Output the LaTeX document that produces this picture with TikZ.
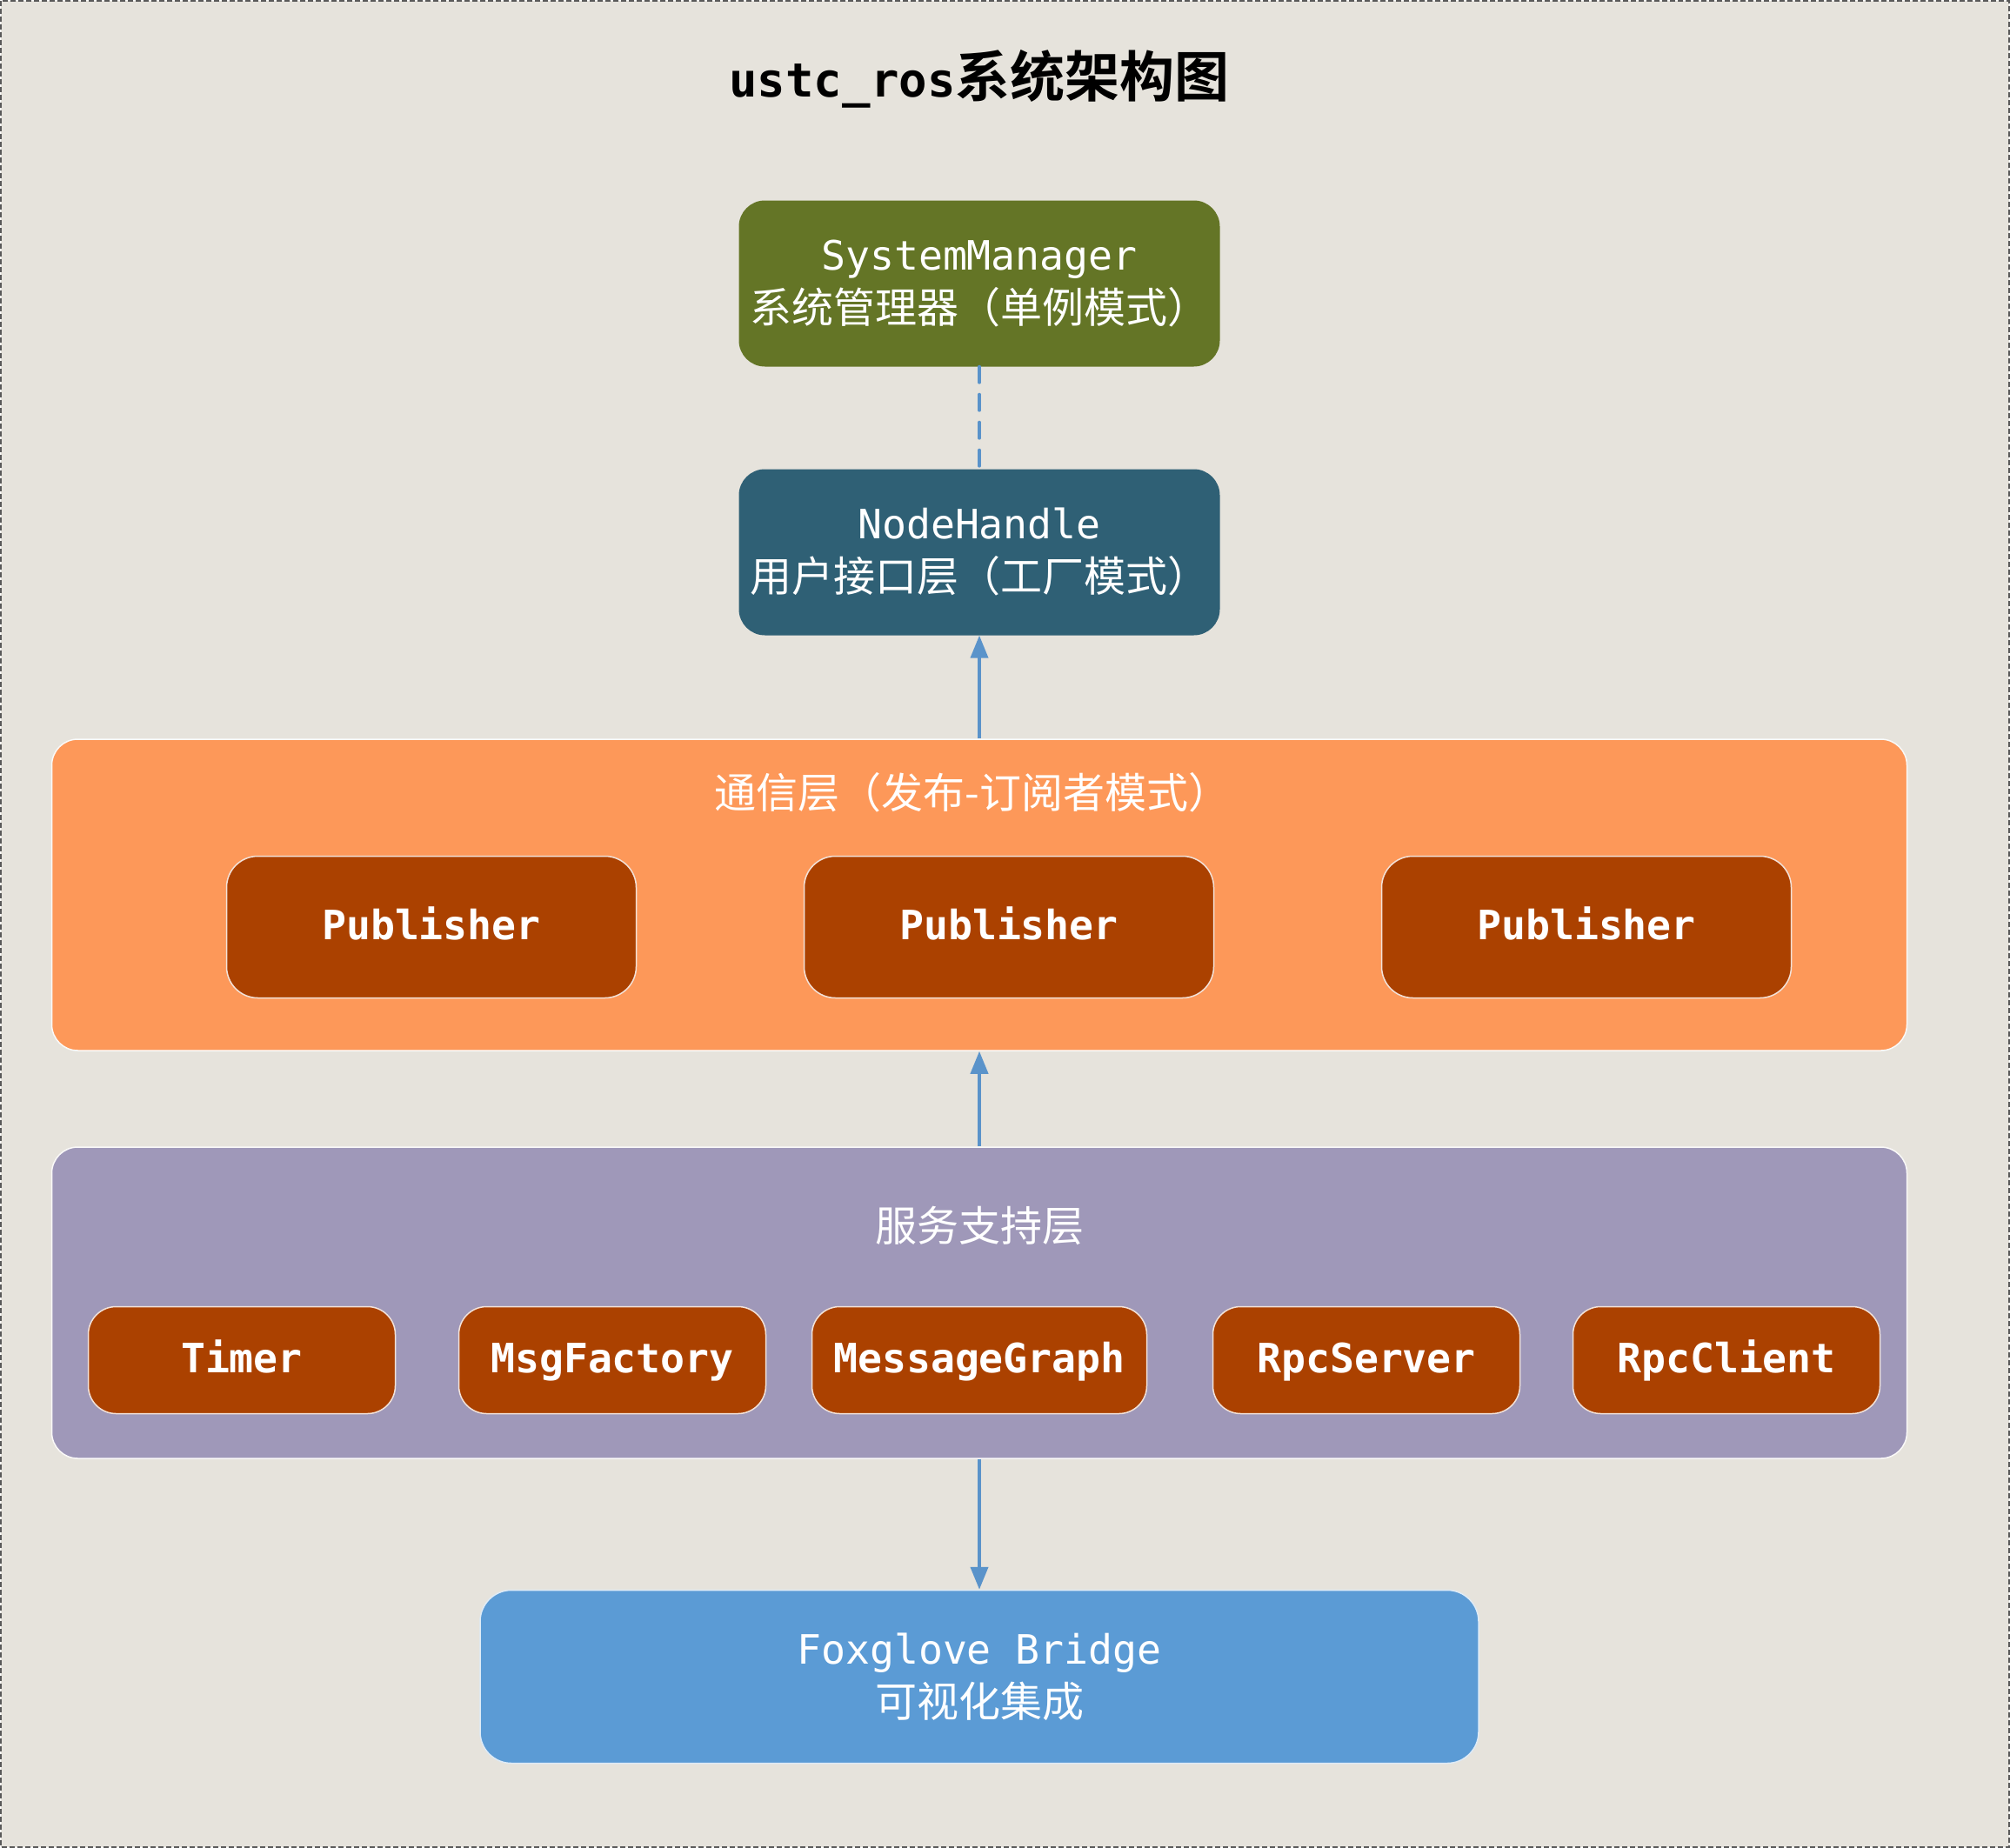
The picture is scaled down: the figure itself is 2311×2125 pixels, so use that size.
\documentclass[tikz,border=0pt]{standalone}
\usepackage{fontspec}
\setmainfont{DejaVu Sans Mono}
\newfontfamily\cjk{Noto Sans CJK SC}[BoldFont={Noto Sans CJK SC Bold}]
\newcommand\zh[1]{{\cjk\fontsize{48}{61}\selectfont #1}}
\usetikzlibrary{arrows.meta,positioning}

\definecolor{paper}{HTML}{E6E3DC}
\definecolor{mgrgreen}{HTML}{647526}
\definecolor{handleblue}{HTML}{2F6075}
\definecolor{commorange}{HTML}{FD9859}
\definecolor{rust}{HTML}{AB4100}
\definecolor{servlilac}{HTML}{9F98B9}
\definecolor{foxblue}{HTML}{5B9BD5}
\definecolor{linkblue}{HTML}{5A93CA}

\begin{document}
\begin{tikzpicture}[x=1pt, y=-1pt,
    every node/.style={font=\fontsize{46.5}{61}\selectfont, text=white, align=center, inner sep=0pt},
    topbox/.style={rectangle, rounded corners=30pt, minimum width=553pt, minimum height=191pt},
    layer/.style={rectangle, rounded corners=30pt, draw=white!80!paper, line width=1.5pt, minimum width=2133pt, minimum height=358pt},
    pubbox/.style={rectangle, rounded corners=36pt, fill=rust, draw=white!85!rust, line width=1.5pt, minimum width=471pt, minimum height=163pt, text height=36pt, text depth=8pt, font=\fontsize{46.5}{61}\selectfont\bfseries},
    partbox/.style={rectangle, rounded corners=32pt, fill=rust, draw=white!85!rust, line width=1.5pt, minimum height=123pt, text height=36pt, text depth=8pt, font=\fontsize{46.5}{61}\selectfont\bfseries},
    link/.style={draw=linkblue, line width=4pt, -{Triangle[length=26pt,width=20pt]}},
    weak/.style={draw=linkblue, line width=4pt, dash pattern=on 18pt off 14pt, line cap=round}]
                \useasboundingbox (0,0) rectangle (2311,2125);
                \draw[fill=paper, draw=gray!70!black, line width=1.5pt, dash pattern=on 6pt off 3pt] (1,1) rectangle (2310,2124);

                \node[text=black, font=\fontsize{54}{70}\selectfont\bfseries] (title) at (1126,91) {ustc\_ros{\cjk\fontsize{63}{70}\selectfont 系统架构图}};

                % upper part
                \node[topbox, fill=mgrgreen] (sm) at (1126,326) {SystemManager\\\zh{系统管理器（单例模式）}};
                \node[topbox, fill=handleblue] (nh) at (1126,635) {NodeHandle\\\zh{用户接口层（工厂模式）}};

                % communication layer
                \node[layer, fill=commorange] (comm) at (1126,1029) {};
                \node (commtitle) at (1118,911) {\zh{通信层（发布-订阅者模式）}};
                \node[pubbox] (pub1) at (496,1066) {Publisher};
                \node[pubbox] (pub2) at (1160,1066) {Publisher};
                \node[pubbox] (pub3) at (1824,1066) {Publisher};

                % service layer
                \node[layer, fill=servlilac] (serv) at (1126,1498) {};
                \node (servtitle) at (1126,1409) {\zh{服务支持层}};
                \node[partbox, minimum width=353pt] (timer) at (278,1564) {Timer};
                \node[partbox, minimum width=353pt] (factory) at (704,1564) {MsgFactory};
                \node[partbox, minimum width=385pt] (graph) at (1126,1564) {MessageGraph};
                \node[partbox, minimum width=353pt] (server) at (1571,1564) {RpcServer};
                \node[partbox, minimum width=353pt] (client) at (1985,1564) {RpcClient};

                % visualisation
                \node[rectangle, rounded corners=36pt, fill=foxblue, draw=white!80!foxblue, line width=1.5pt, minimum width=1148pt, minimum height=199pt] (fox) at (1126,1928) {Foxglove Bridge\\\zh{可视化集成}};

                \draw[weak] (sm) -- (nh);
                \draw[link] (comm) -- (nh);
                \draw[link] (serv) -- (comm);
                \draw[link] (serv) -- (fox);
            \end{tikzpicture}
\end{document}
